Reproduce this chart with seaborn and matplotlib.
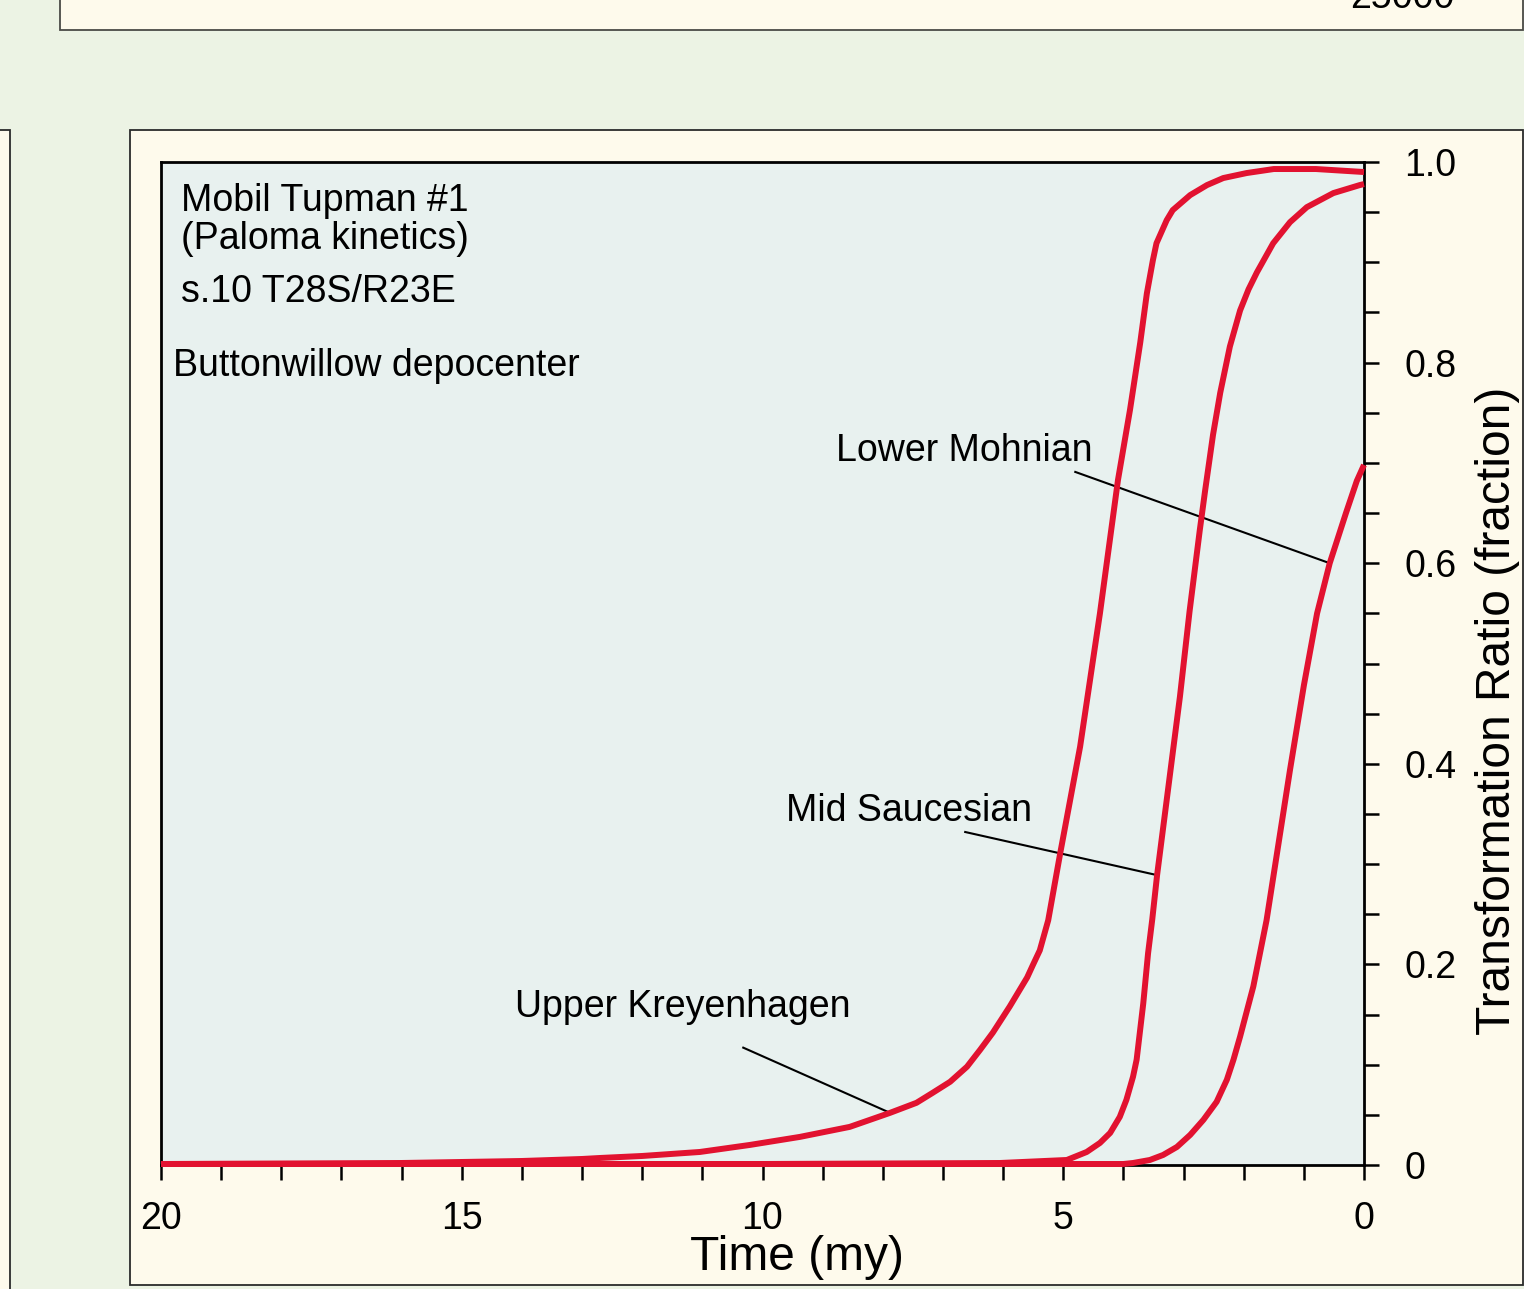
import numpy as np
import pandas as pd
import matplotlib
matplotlib.use("Agg")
import matplotlib.pyplot as plt
from matplotlib.patches import Rectangle
import seaborn as sns

# Transformation ratio histories (time in my before present, ratio as fraction)
kreyenhagen_time = [20.0, 18.0, 16.0, 15.0, 14.0, 13.0, 12.7, 12.0, 11.04, 10.21, 9.38, 8.55, 7.88,
                    7.44, 7.17, 6.88, 6.60, 6.38, 6.17, 5.89, 5.60, 5.50, 5.39, 5.25, 5.05, 4.72,
                    4.39, 4.09, 3.89, 3.72, 3.61, 3.51, 3.45, 3.28, 3.18, 2.89, 2.61, 2.34, 1.95,
                    1.5, 0.8, 0.0]
kreyenhagen_ratio = [0.001, 0.0015, 0.002, 0.003, 0.004, 0.006, 0.007, 0.009, 0.013, 0.020, 0.028, 0.038, 0.052,
                     0.062, 0.072, 0.083, 0.098, 0.115, 0.132, 0.158, 0.187, 0.200, 0.214, 0.244, 0.311, 0.417,
                     0.550, 0.683, 0.753, 0.820, 0.869, 0.902, 0.919, 0.942, 0.952, 0.967, 0.977, 0.984, 0.989,
                     0.993, 0.993, 0.990]

saucesian_time = [20.0, 10.0, 6.05, 4.94, 4.61, 4.39, 4.22, 4.06, 3.95, 3.84, 3.78, 3.67, 3.59,
                  3.52, 3.44, 3.25, 3.06, 2.90, 2.73, 2.64, 2.51, 2.39, 2.23, 2.06, 1.92, 1.78, 1.51,
                  1.23, 0.95, 0.51, 0.07, 0.0]
saucesian_ratio = [0.001, 0.001, 0.002, 0.005, 0.013, 0.022, 0.032, 0.048, 0.065, 0.088, 0.105, 0.161, 0.211,
                   0.245, 0.289, 0.378, 0.467, 0.552, 0.633, 0.673, 0.728, 0.770, 0.816, 0.852, 0.873, 0.890, 0.919,
                   0.940, 0.955, 0.969, 0.977, 0.978]

mohnian_time = [20.0, 10.0, 4.0, 3.84, 3.56, 3.34, 3.11, 2.89, 2.67, 2.45, 2.28, 2.17, 2.06,
                1.84, 1.62, 1.23, 1.0, 0.78, 0.57, 0.30, 0.12, 0.0]
mohnian_ratio = [0.001, 0.001, 0.001, 0.002, 0.005, 0.010, 0.018, 0.030, 0.045, 0.063, 0.085, 0.105, 0.128,
                 0.178, 0.244, 0.394, 0.478, 0.550, 0.600, 0.650, 0.682, 0.698]

unit_names = ["Upper Kreyenhagen", "Mid Saucesian", "Lower Mohnian"]

# Label positions (time, ratio) and leader lines (start -> point on curve)
label_pos = {"Upper Kreyenhagen": (14.11, 0.158),
             "Mid Saucesian": (9.61, 0.353),
             "Lower Mohnian": (8.78, 0.712)}
leader_time = {"Upper Kreyenhagen": [10.32, 7.88],
               "Mid Saucesian": [6.63, 3.44],
               "Lower Mohnian": [4.80, 0.57]}
leader_ratio = {"Upper Kreyenhagen": [0.117, 0.052],
                "Mid Saucesian": [0.332, 0.289],
                "Lower Mohnian": [0.691, 0.600]}

x_ticks = list(range(0, 21))
x_tick_labels = ["0", "", "", "", "", "5", "", "", "", "", "10", "", "", "", "", "15",
                 "", "", "", "", "20"]
y_ticks = [round(0.05 * i, 2) for i in range(21)]
y_tick_labels = ["0", "", "", "", "0.2", "", "", "", "0.4", "", "", "", "0.6", "", "", "",
                 "0.8", "", "", "", "1.0"]

FIG_BG = "#ECF3E4"
PANEL_BG = "#FEFAEC"
AXES_BG = "#E8F1EF"
RED = "#E21230"

df = pd.concat([
    pd.DataFrame({"time": kreyenhagen_time, "ratio": kreyenhagen_ratio, "unit": unit_names[0]}),
    pd.DataFrame({"time": saucesian_time, "ratio": saucesian_ratio, "unit": unit_names[1]}),
    pd.DataFrame({"time": mohnian_time, "ratio": mohnian_ratio, "unit": unit_names[2]}),
], ignore_index=True)

plt.rcParams["font.family"] = ["Liberation Sans", "DejaVu Sans"]

fig = plt.figure(figsize=(15.24, 12.89), dpi=100, facecolor=FIG_BG)

# Surrounding panels
fig.add_artist(Rectangle((130 / 1524, 1 - 1285 / 1289), (1523 - 130) / 1524, (1285 - 130) / 1289,
                         transform=fig.transFigure, facecolor=PANEL_BG, edgecolor="#2b2b2b",
                         linewidth=1.3, zorder=-1))
fig.add_artist(Rectangle((60 / 1524, 1 - 30 / 1289), (1523 - 60) / 1524, 0.05,
                         transform=fig.transFigure, facecolor=PANEL_BG, edgecolor="#4a4a46",
                         linewidth=1.3, zorder=-1))
fig.add_artist(Rectangle((-0.02, 1 - 1300 / 1289), 0.02 + 10 / 1524, (1300 - 130) / 1289,
                         transform=fig.transFigure, facecolor=PANEL_BG, edgecolor="#2b2b2b",
                         linewidth=1.3, zorder=-1))
fig.text(1455 / 1524, 1 - 8 / 1289, "25000", ha="right", va="baseline", fontsize=27, color="black")

ax = fig.add_axes([161 / 1524, 1 - 1165 / 1289, (1364 - 161) / 1524, (1165 - 162) / 1289])
ax.set_facecolor(AXES_BG)

sns.lineplot(data=df, x="time", y="ratio", hue="unit", palette=[RED] * 3, sort=False,
             estimator=None, legend=False, linewidth=4.3, ax=ax, clip_on=False, zorder=3,
             solid_capstyle="butt", solid_joinstyle="round")

for name in unit_names:
    ax.plot(leader_time[name], leader_ratio[name], color="black", linewidth=1.5, zorder=2.8)
    tx, ty = label_pos[name]
    ax.text(tx, ty, name, ha="left", va="center", fontsize=27)

ax.text(19.67, 0.961, "Mobil Tupman #1", ha="left", va="center", fontsize=27)
ax.text(19.67, 0.923, "(Paloma kinetics)", ha="left", va="center", fontsize=27)
ax.text(19.67, 0.870, "s.10 T28S/R23E", ha="left", va="center", fontsize=27)
ax.text(19.80, 0.797, "Buttonwillow depocenter", ha="left", va="center", fontsize=27)

ax.set_xlim(20, 0)
ax.set_ylim(0, 1.0)
ax.set_xticks(x_ticks)
ax.set_xticklabels(x_tick_labels)
ax.set_yticks(y_ticks)
ax.set_yticklabels(y_tick_labels)
ax.yaxis.tick_right()
ax.yaxis.set_label_position("right")
ax.tick_params(axis="x", direction="out", length=11, width=1.8, pad=15, labelsize=27,
               bottom=True, top=False)
ax.tick_params(axis="y", direction="out", length=11, width=1.8, pad=18, labelsize=27,
               right=True, left=False)
for sp in ax.spines.values():
    sp.set_linewidth(2.0)
    sp.set_color("black")

ax.set_xlabel("Time (my)", fontsize=34.5, labelpad=0)
ax.xaxis.set_label_coords(0.529, -0.070)
ax.set_ylabel("Transformation Ratio (fraction)", fontsize=34.5)
ax.yaxis.set_label_coords(1.092, 0.4526)

fig.savefig("out.png", dpi=100, facecolor=FIG_BG)
